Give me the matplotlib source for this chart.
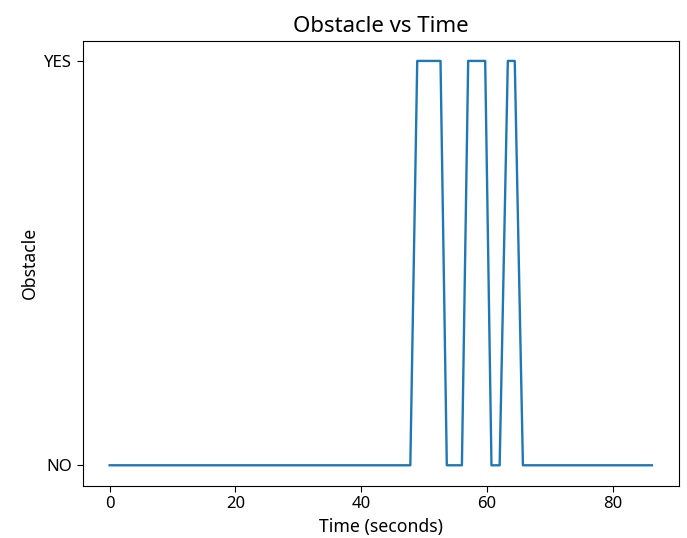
import matplotlib
matplotlib.use("Agg")
import matplotlib.pyplot as plt

plt.rcParams['font.family'] = ['Noto Sans', 'DejaVu Sans']

# Obstacle detection state over time (0 = NO, 1 = YES)
time_s = [0, 47.8, 48.9, 52.6, 53.6, 56.0, 57.0, 59.7, 60.7, 62.0, 63.3, 64.4, 65.7, 86.2]
obstacle = [0, 0, 1, 1, 0, 0, 1, 1, 0, 0, 1, 1, 0, 0]
state_labels = ['NO', 'YES']
x_ticks = [0, 20, 40, 60, 80]

fig = plt.figure(figsize=(6.87, 5.38), dpi=100)
ax = fig.add_axes([82.5 / 687, 1 - 485.5 / 538, (679 - 82.5) / 687, (485.5 - 40.7) / 538])

ax.plot(time_s, obstacle, color='#1f77b4', linewidth=1.7)

ax.set_yticks([0, 1])
ax.set_yticklabels(state_labels)
ax.set_xticks(x_ticks)
ax.tick_params(labelsize=12, length=4.2)
ax.set_xlabel('Time (seconds)', fontsize=12.7)
ax.set_ylabel('Obstacle', fontsize=12.7)
ax.set_title('Obstacle vs Time', fontsize=16, pad=6)

fig.savefig('out.png', dpi=100)
